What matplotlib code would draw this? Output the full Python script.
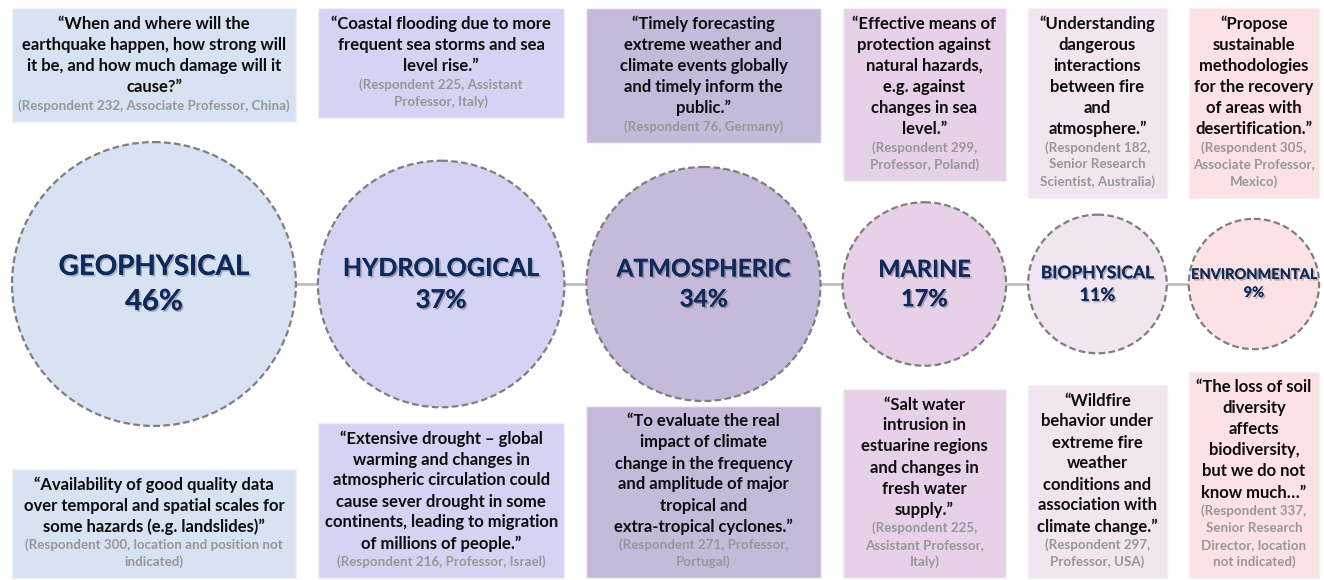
import matplotlib
matplotlib.use("Agg")
import matplotlib.pyplot as plt
from matplotlib.patches import Circle, Rectangle
import matplotlib.patheffects as pe

# ---------------- data ----------------
categories = ["GEOPHYSICAL", "HYDROLOGICAL", "ATMOSPHERIC", "MARINE", "BIOPHYSICAL", "ENVIRONMENTAL"]
percentages = [46, 37, 34, 17, 11, 9]

top_quotes = [
    ["\u201cWhen and where will the", "earthquake happen, how strong will", "it be, and how much damage will it", "cause?\u201d"],
    ["\u201cCoastal flooding due to more", "frequent sea storms and sea", "level rise.\u201d"],
    ["\u201cTimely forecasting", "extreme weather and", "climate events globally", "and timely inform the", "public.\u201d"],
    ["\u201cEffective means of", "protection against", "natural hazards,", "e.g. against", "changes in sea", "level.\u201d"],
    ["\u201cUnderstanding", "dangerous", "interactions", "between fire", "and", "atmosphere.\u201d"],
    ["\u201cPropose", "sustainable", "methodologies", "for the recovery", "of areas with", "desertification.\u201d"],
]
top_sources = [
    ["(Respondent 232, Associate Professor, China)"],
    ["(Respondent 225, Assistant", "Professor, Italy)"],
    ["(Respondent 76, Germany)"],
    ["(Respondent 299,", "Professor, Poland)"],
    ["(Respondent 182,", "Senior Research", "Scientist, Australia)"],
    ["(Respondent 305,", "Associate Professor,", "Mexico)"],
]
bottom_quotes = [
    ["\u201cAvailability of good quality data", "over temporal and spatial scales for", "some hazards (e.g. landslides)\u201d"],
    ["\u201cExtensive drought \u2013 global", "warming and changes in", "atmospheric circulation could", "cause sever drought in some", "continents, leading to migration", "of millions of people.\u201d"],
    ["\u201cTo evaluate the real", "impact of climate", "change in the frequency", "and amplitude of major", "tropical and", "extra-tropical cyclones.\u201d"],
    ["\u201cSalt water", "intrusion in", "estuarine regions", "and changes in", "fresh water", "supply.\u201d"],
    ["\u201cWildfire", "behavior under", "extreme fire", "weather", "conditions and", "association with", "climate change.\u201d"],
    ["\u201cThe loss of soil", "diversity", "affects", "biodiversity,", "but we do not", "know much\u2026\u201d"],
]
bottom_sources = [
    ["(Respondent 300, location and position not", "indicated)"],
    ["(Respondent 216, Professor, Israel)"],
    ["(Respondent 271, Professor,", "Portugal)"],
    ["(Respondent 225,", "Assistant Professor,", "Italy)"],
    ["(Respondent 297,", "Professor, USA)"],
    ["(Respondent 337,", "Senior Research", "Director, location", "not indicated)"],
]

# ---------------- style ----------------
fills = ["#d7e2f3", "#d5d3f3", "#c6badb", "#e7d1e8", "#f1e5f1", "#fce2e4"]
label_pt = [20, 18, 17.5, 17, 12.5, 10.5]
pct_pt = [21, 18.5, 17.5, 17, 13, 10.5]
navy = "#0e2a5c"
FONT = "Lato"

W, H = 1324, 580
fig = plt.figure(figsize=(W / 100, H / 100), dpi=100)
ax = fig.add_axes([0, 0, 1, 1])
ax.set_xlim(0, W)
ax.set_ylim(H, 0)
ax.axis("off")

# circle diameter scale (pixels) from percentage
def diam(p):
    return 93 + 4.15 * p

cy = 284
gap = 22
x = 12
centers, diams = [], []
for p in percentages:
    d = diam(p)
    centers.append(x + d / 2)
    diams.append(d)
    x += d + gap

# connecting line
ax.plot([centers[0], centers[-1]], [cy, cy], color="#bfbfbf", lw=2.0, zorder=1, solid_capstyle="butt")

shadow = [pe.withSimplePatchShadow(offset=(1.2, -1.2), shadow_rgbFace="#000000", alpha=0.25), pe.Normal()]

for i, (cat, p) in enumerate(zip(categories, percentages)):
    cx, d = centers[i], diams[i]
    ax.add_patch(Circle((cx, cy), d / 2, facecolor=fills[i], edgecolor="#7f7f7f",
                        lw=1.6, linestyle=(0, (3, 1.5)), zorder=2))
    lp = label_pt[i] * 100 / 72
    pp = pct_pt[i] * 100 / 72
    ax.text(cx, cy - 0.62 * lp, cat, ha="center", va="center", fontsize=label_pt[i],
            fontweight="bold", color=navy, family=FONT, zorder=3, path_effects=shadow)
    ax.text(cx, cy + 0.62 * pp, f"{p}%", ha="center", va="center", fontsize=pct_pt[i],
            fontweight="bold", color=navy, family=FONT, zorder=3, path_effects=shadow)

QL, SL = 21, 17          # line pitch quote / source
Q_PT, S_PT = 12, 9.6
src_col = "#979797"


def draw_box(i, quote, src, top=None, bottom=None):
    cx, d = centers[i], diams[i]
    n_q, n_s = len(quote), len(src)
    pad = 16
    inner = (n_q - 1) * QL + 18.5 + (n_s - 1) * SL
    height = inner + 2 * pad
    if top is None:
        top = bottom - height
    ax.add_patch(Rectangle((cx - d / 2, top), d, height, facecolor=fills[i],
                           edgecolor="#f2f2f2", lw=1.0, zorder=2))
    y = top + pad
    for line in quote:
        ax.text(cx, y, line, ha="center", va="center", fontsize=Q_PT, fontweight="bold",
                color="#0d0d0d", family=FONT, zorder=3)
        y += QL
    y += 18.5 - QL
    for line in src:
        ax.text(cx, y, line, ha="center", va="center", fontsize=S_PT, fontweight="bold",
                color=src_col, family=FONT, zorder=3)
        y += SL


for i in range(len(categories)):
    draw_box(i, top_quotes[i], top_sources[i], top=8)
    draw_box(i, bottom_quotes[i], bottom_sources[i], bottom=578)

fig.savefig("out.png", dpi=100, facecolor="white")
